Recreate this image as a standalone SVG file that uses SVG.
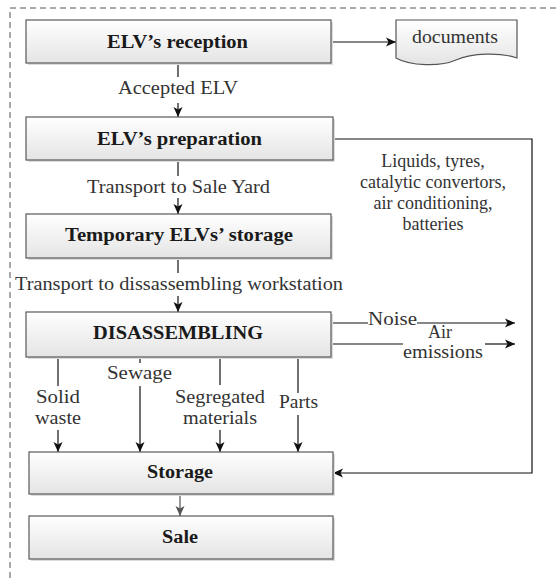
<svg xmlns="http://www.w3.org/2000/svg" width="558" height="578" viewBox="0 0 558 578" font-family="'Liberation Serif', 'DejaVu Serif', 'Times New Roman', serif">
<style>
.box{fill:url(#g);stroke:#595959;stroke-width:1.2}
.sh{fill:#dcdcdc}
text{font-family:'Liberation Serif','DejaVu Serif',serif}
.bt{font-weight:bold;font-size:18px;fill:#1a1a1a;text-anchor:middle}
.lt{font-size:18px;fill:#333;text-anchor:middle}
.ln{fill:none;stroke:#111;stroke-width:1.2}
.ar{fill:none;stroke:#111;stroke-width:1.2;marker-end:url(#ah)}
</style>
<defs>
<linearGradient id="g" x1="0" y1="0" x2="0" y2="1">
<stop offset="0" stop-color="#ffffff"/>
<stop offset="1" stop-color="#e4e4e4"/>
</linearGradient>
<marker id="ah" markerWidth="10" markerHeight="10" refX="10" refY="5" orient="auto" markerUnits="userSpaceOnUse">
<path d="M0,0.5 L10,5 L0,9.5 L2.5,5 Z" fill="#111"/>
</marker>
<marker id="ahg" markerWidth="10" markerHeight="10" refX="10" refY="5" orient="auto" markerUnits="userSpaceOnUse">
<path d="M0,0.5 L10,5 L0,9.5 L2.5,5 Z" fill="#555"/>
</marker>
</defs>
<rect width="558" height="578" fill="#fff"/>
<path d="M10,578 V8 H558" fill="none" stroke="#555" stroke-width="1" stroke-dasharray="6,4"/>

<g id="connectors">
<line class="ln" x1="178" y1="63" x2="178" y2="77"/>
<line class="ar" x1="178" y1="103" x2="178" y2="117"/>
<line class="ln" x1="178" y1="160" x2="178" y2="176"/>
<line class="ar" x1="178" y1="198" x2="178" y2="214"/>
<line class="ln" x1="178" y1="258" x2="178" y2="273"/>
<line class="ar" x1="178" y1="296" x2="178" y2="312"/>
<line class="ar" x1="331" y1="42" x2="396" y2="42"/>
<path class="ar" d="M333,139 H532 V473 H333"/>
<line class="ln" x1="331" y1="323" x2="368" y2="323"/>
<line class="ar" x1="417" y1="323" x2="515" y2="323"/>
<line class="ln" x1="331" y1="344" x2="403" y2="344"/>
<line class="ar" x1="485" y1="344" x2="515" y2="344"/>
<line class="ln" x1="58" y1="357" x2="58" y2="386"/>
<line class="ar" x1="58" y1="430" x2="58" y2="452"/>
<line class="ln" x1="140" y1="357" x2="140" y2="363"/>
<line class="ar" x1="140" y1="386" x2="140" y2="452"/>
<line class="ln" x1="220" y1="357" x2="220" y2="385"/>
<line class="ar" x1="220" y1="430" x2="220" y2="452"/>
<line class="ln" x1="298" y1="357" x2="298" y2="393"/>
<line class="ar" x1="298" y1="415" x2="298" y2="452"/>
<line x1="180" y1="494" x2="180" y2="516" stroke="#555" stroke-width="1.2" marker-end="url(#ahg)"/>
<text class="lt" x="178" y="94" textLength="120" lengthAdjust="spacingAndGlyphs">Accepted ELV</text>
<text class="lt" x="178.5" y="193" textLength="183" lengthAdjust="spacingAndGlyphs">Transport to Sale Yard</text>
<text class="lt" x="179" y="290" textLength="328" lengthAdjust="spacingAndGlyphs">Transport to dissassembling workstation</text>
<text class="lt" x="433" y="167">Liquids, tyres,</text>
<text class="lt" x="433" y="188">catalytic convertors,</text>
<text class="lt" x="433" y="209">air conditioning,</text>
<text class="lt" x="433" y="230">batteries</text>
<text class="lt" x="392.5" y="325" textLength="49" lengthAdjust="spacingAndGlyphs">Noise</text>
<text class="lt" x="440" y="338" textLength="24" lengthAdjust="spacingAndGlyphs">Air</text>
<text class="lt" x="443" y="358" textLength="80" lengthAdjust="spacingAndGlyphs">emissions</text>
<text class="lt" x="58" y="403" textLength="44" lengthAdjust="spacingAndGlyphs">Solid</text>
<text class="lt" x="58" y="424" textLength="46" lengthAdjust="spacingAndGlyphs">waste</text>
<text class="lt" x="139.5" y="379" textLength="65" lengthAdjust="spacingAndGlyphs">Sewage</text>
<text class="lt" x="220" y="403" textLength="90" lengthAdjust="spacingAndGlyphs">Segregated</text>
<text class="lt" x="220" y="424" textLength="74" lengthAdjust="spacingAndGlyphs">materials</text>
<text class="lt" x="298.5" y="408" textLength="39" lengthAdjust="spacingAndGlyphs">Parts</text>
</g>

<g id="reception">
<rect class="sh" x="28" y="22" width="305" height="43"/>
<rect class="box" x="26" y="20" width="305" height="43"/>
<text class="bt" x="177.5" y="48" textLength="141" lengthAdjust="spacingAndGlyphs">ELV’s reception</text>
</g>
<g id="documents">
<path d="M396,20 H517 V58 C500,52 472,53 456,60 C440,67 410,66 396,58 Z" fill="url(#g)" stroke="#555" stroke-width="1.2"/>
<text class="lt" x="455" y="43" textLength="86" lengthAdjust="spacingAndGlyphs">documents</text>
</g>
<g id="preparation">
<rect class="sh" x="28" y="119" width="307" height="43"/>
<rect class="box" x="26" y="117" width="307" height="43"/>
<text class="bt" x="179.5" y="145" textLength="165" lengthAdjust="spacingAndGlyphs">ELV’s preparation</text>
</g>
<g id="temporary-storage">
<rect class="sh" x="28" y="216" width="305" height="44"/>
<rect class="box" x="26" y="214" width="305" height="44"/>
<text class="bt" x="179" y="241" textLength="228" lengthAdjust="spacingAndGlyphs">Temporary ELVs’ storage</text>
</g>
<g id="disassembling">
<rect class="sh" x="28" y="314" width="305" height="45"/>
<rect class="box" x="26" y="312" width="305" height="45"/>
<text class="bt" x="178" y="339" textLength="170" lengthAdjust="spacingAndGlyphs">DISASSEMBLING</text>
</g>
<g id="storage">
<rect class="sh" x="31" y="454" width="304" height="42"/>
<rect class="box" x="29" y="452" width="304" height="42"/>
<text class="bt" x="180" y="478" textLength="66" lengthAdjust="spacingAndGlyphs">Storage</text>
</g>
<g id="sale">
<rect class="sh" x="31" y="518" width="304" height="43"/>
<rect class="box" x="29" y="516" width="304" height="43"/>
<text class="bt" x="180" y="543" textLength="36" lengthAdjust="spacingAndGlyphs">Sale</text>
</g>
</svg>
